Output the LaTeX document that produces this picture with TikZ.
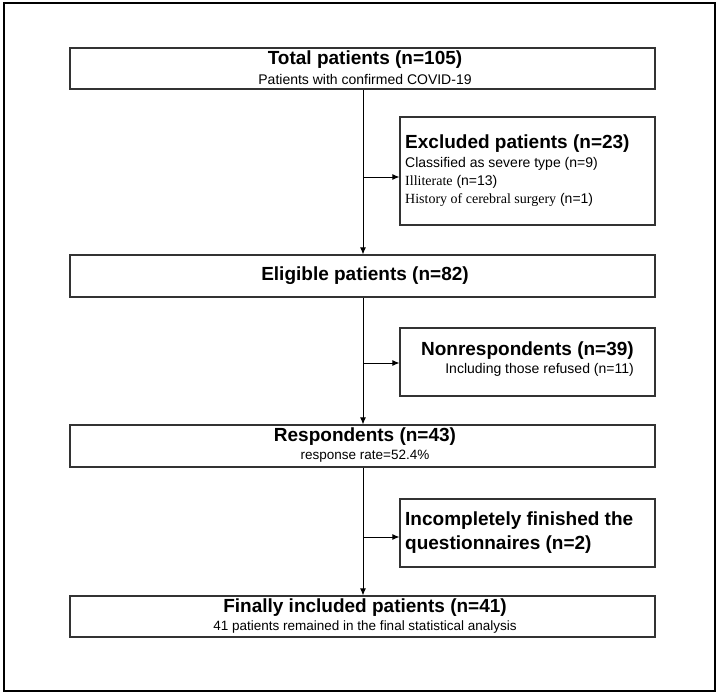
\documentclass[tikz,border=0pt]{standalone}
\usepackage{fontspec}
\setmainfont{Liberation Sans}
\newfontfamily\serifit{Liberation Serif}
\usetikzlibrary{arrows.meta}
\begin{document}
\begin{tikzpicture}[x=1pt,y=-1pt,
  box/.style={draw=black!80,line width=1.1pt,inner sep=0pt},
  ttl/.style={font=\fontsize{19}{21}\selectfont\bfseries,inner sep=0pt},
  sub/.style={font=\fontsize{14}{16}\selectfont,inner sep=0pt},
  small/.style={font=\fontsize{13.5}{15}\selectfont,inner sep=0pt},
  conn/.style={line width=1pt,-{Latex[length=7pt,width=6pt]}}]
\useasboundingbox (0,0) rectangle (720,698);
\draw[line width=2pt] (4,3) rectangle (715,691);
% boxes
\node[box,minimum width=585pt,minimum height=41pt] (total) at (362.5,68.5) {};
\node[box,minimum width=255pt,minimum height=108pt] (excl) at (527.5,171) {};
\node[box,minimum width=585pt,minimum height=42pt] (elig) at (362.5,276) {};
\node[box,minimum width=255pt,minimum height=68pt] (nonr) at (527.5,362) {};
\node[box,minimum width=585pt,minimum height=42pt] (resp) at (362.5,446) {};
\node[box,minimum width=255pt,minimum height=68pt] (inc) at (527.5,533) {};
\node[box,minimum width=585pt,minimum height=41pt] (fin) at (362.5,616.5) {};
% texts
\node[ttl] (t1) at (365,60) {Total patients (n=105)};
\node[sub] (t1s) at (365,79) {Patients with confirmed COVID-19};
\node[ttl,anchor=west] (t2) at (405,144) {Excluded patients (n=23)};
\node[sub,anchor=west] (t2a) at (405,164) {Classified as severe type (n=9)};
\node[sub,anchor=west] (t2b) at (405,182) {{\serifit Illiterate} (n=13)};
\node[sub,anchor=west] (t2c) at (405,200) {{\serifit History of cerebral surgery} (n=1)};
\node[ttl] (t3) at (365,276) {Eligible patients (n=82)};
\node[ttl,anchor=east] (t4) at (634,351) {Nonrespondents (n=39)};
\node[sub,anchor=east] (t4s) at (634,370) {Including those refused (n=11)};
\node[ttl] (t5) at (365,437) {Respondents (n=43)};
\node[small] (t5s) at (365,456) {response rate=52.4\%};
\node[ttl,anchor=west] (t6a) at (405,521) {Incompletely finished the};
\node[ttl,anchor=west] (t6b) at (405,545) {questionnaires (n=2)};
\node[ttl] (t7) at (365,608) {Finally included patients (n=41)};
\node[small] (t7s) at (365,627) {41 patients remained in the final statistical analysis};
% connectors
\coordinate (j1) at (363,177);
\coordinate (j2) at (363,363);
\coordinate (j3) at (363,537);
\draw[conn] (total.south -| j1) -- (elig.north -| j1);
\draw[conn] (elig.south -| j2) -- (resp.north -| j2);
\draw[conn] (resp.south -| j3) -- (fin.north -| j3);
\draw[conn] (j1) -- (j1 -| excl.west);
\draw[conn] (j2) -- (j2 -| nonr.west);
\draw[conn] (j3) -- (j3 -| inc.west);
\end{tikzpicture}
\end{document}
